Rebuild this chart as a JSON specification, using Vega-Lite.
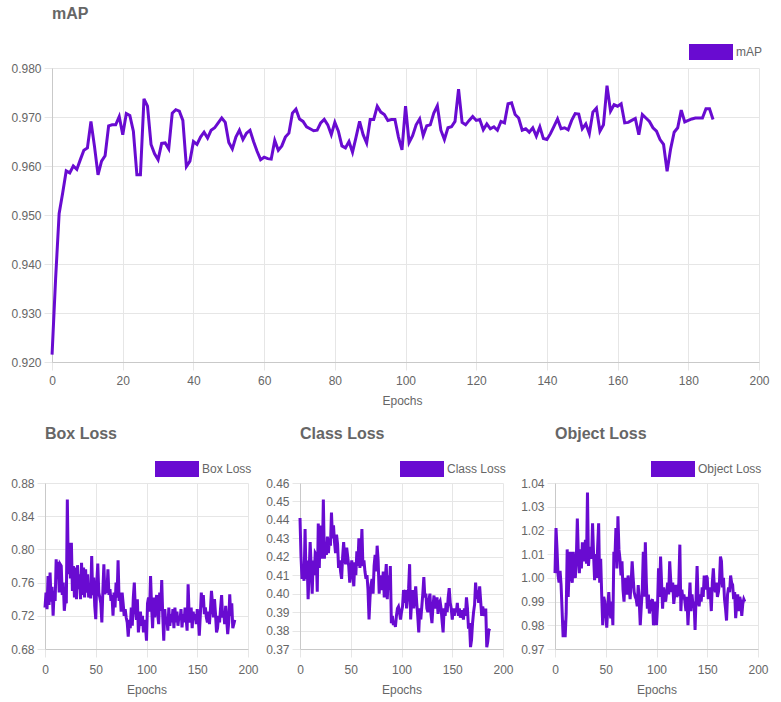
{
  "$schema": "https://vega.github.io/schema/vega-lite/v6.json",
  "background": "white",
  "padding": {"left": 10, "top": 6, "right": 10, "bottom": 4},
  "config": {
    "font": "Liberation Sans",
    "view": {"stroke": null},
    "axis": {
      "labelFont": "Liberation Sans", "labelFontSize": 12, "labelColor": "#666666",
      "titleFont": "Liberation Sans", "titleFontSize": 12, "titleFontWeight": "normal", "titleColor": "#666666",
      "gridColor": "#e6e6e6", "tickColor": "#e6e6e6", "domainColor": "#c9c9c9",
      "tickSize": 8, "labelPadding": 3
    },
    "axisX": {"labelFlush": false, "labelPadding": 5, "titlePadding": 9},
    "title": {"font": "Liberation Sans", "fontSize": 16, "fontWeight": "bold", "color": "#666666", "anchor": "start", "frame": "group"},
    "legend": {"labelFont": "Liberation Sans", "labelFontSize": 12, "labelColor": "#666666", "padding": 0, "labelOffset": 3,
               "symbolType": "M-1,-0.36H1V0.36H-1Z", "symbolSize": 1936, "symbolStrokeWidth": 0, "title": null, "orient": "none"},
    "line": {"strokeWidth": 3, "color": "#690bd1"},
    "point": {"filled": true, "opacity": 1, "strokeWidth": 0}
  },
  "datasets": {
    "runs": [
      {"epoch":0,"mAP":0.9215,"box":0.730,"cls":0.441,"obj":1.002},
      {"epoch":1,"mAP":0.937,"box":0.748,"cls":0.420,"obj":1.021},
      {"epoch":2,"mAP":0.9503,"box":0.728,"cls":0.408,"obj":1.012},
      {"epoch":3,"mAP":0.9545,"box":0.768,"cls":0.412,"obj":1.001},
      {"epoch":4,"mAP":0.959,"box":0.733,"cls":0.407,"obj":0.998},
      {"epoch":5,"mAP":0.9586,"box":0.772,"cls":0.435,"obj":1.003},
      {"epoch":6,"mAP":0.960,"box":0.737,"cls":0.408,"obj":0.997},
      {"epoch":7,"mAP":0.9593,"box":0.755,"cls":0.418,"obj":0.986},
      {"epoch":8,"mAP":0.9613,"box":0.720,"cls":0.397,"obj":0.975},
      {"epoch":9,"mAP":0.9632,"box":0.750,"cls":0.412,"obj":0.982},
      {"epoch":10,"mAP":0.9637,"box":0.738,"cls":0.428,"obj":0.975},
      {"epoch":11,"mAP":0.9691,"box":0.788,"cls":0.415,"obj":0.985},
      {"epoch":12,"mAP":0.964,"box":0.765,"cls":0.400,"obj":1.012},
      {"epoch":13,"mAP":0.9582,"box":0.785,"cls":0.418,"obj":0.992},
      {"epoch":14,"mAP":0.961,"box":0.748,"cls":0.410,"obj":1.004},
      {"epoch":15,"mAP":0.9621,"box":0.782,"cls":0.422,"obj":1.011},
      {"epoch":16,"mAP":0.9682,"box":0.780,"cls":0.421,"obj":1.000},
      {"epoch":17,"mAP":0.9684,"box":0.745,"cls":0.401,"obj":0.998},
      {"epoch":18,"mAP":0.9684,"box":0.760,"cls":0.438,"obj":1.011},
      {"epoch":19,"mAP":0.9701,"box":0.726,"cls":0.414,"obj":1.002},
      {"epoch":20,"mAP":0.9664,"box":0.740,"cls":0.437,"obj":1.000},
      {"epoch":21,"mAP":0.9707,"box":0.735,"cls":0.425,"obj":1.008},
      {"epoch":22,"mAP":0.9703,"box":0.860,"cls":0.419,"obj":1.025},
      {"epoch":23,"mAP":0.9671,"box":0.770,"cls":0.451,"obj":1.010},
      {"epoch":24,"mAP":0.9582,"box":0.808,"cls":0.419,"obj":1.002},
      {"epoch":25,"mAP":0.9582,"box":0.765,"cls":0.426,"obj":1.012},
      {"epoch":26,"mAP":0.9737,"box":0.808,"cls":0.421,"obj":1.004},
      {"epoch":27,"mAP":0.9722,"box":0.750,"cls":0.431,"obj":1.015},
      {"epoch":28,"mAP":0.9644,"box":0.780,"cls":0.422,"obj":1.007},
      {"epoch":29,"mAP":0.9625,"box":0.742,"cls":0.430,"obj":1.010},
      {"epoch":30,"mAP":0.9613,"box":0.778,"cls":0.426,"obj":1.016},
      {"epoch":31,"mAP":0.9646,"box":0.740,"cls":0.444,"obj":1.006},
      {"epoch":32,"mAP":0.9647,"box":0.781,"cls":0.430,"obj":1.036},
      {"epoch":33,"mAP":0.9635,"box":0.752,"cls":0.437,"obj":1.005},
      {"epoch":34,"mAP":0.9708,"box":0.770,"cls":0.428,"obj":1.012},
      {"epoch":35,"mAP":0.9715,"box":0.740,"cls":0.422,"obj":1.013},
      {"epoch":36,"mAP":0.9712,"box":0.784,"cls":0.432,"obj":1.008},
      {"epoch":37,"mAP":0.9693,"box":0.745,"cls":0.427,"obj":1.023},
      {"epoch":38,"mAP":0.9599,"box":0.778,"cls":0.414,"obj":1.010},
      {"epoch":39,"mAP":0.961,"box":0.742,"cls":0.418,"obj":0.999},
      {"epoch":40,"mAP":0.965,"box":0.776,"cls":0.412,"obj":1.010},
      {"epoch":41,"mAP":0.9644,"box":0.748,"cls":0.408,"obj":1.000},
      {"epoch":42,"mAP":0.9659,"box":0.770,"cls":0.420,"obj":1.013},
      {"epoch":43,"mAP":0.9669,"box":0.742,"cls":0.428,"obj":1.023},
      {"epoch":44,"mAP":0.9657,"box":0.752,"cls":0.419,"obj":0.998},
      {"epoch":45,"mAP":0.9673,"box":0.741,"cls":0.416,"obj":1.008},
      {"epoch":46,"mAP":0.9678,"box":0.792,"cls":0.425,"obj":0.993},
      {"epoch":47,"mAP":0.9688,"box":0.745,"cls":0.420,"obj":0.980},
      {"epoch":48,"mAP":0.9698,"box":0.766,"cls":0.415,"obj":0.992},
      {"epoch":49,"mAP":0.9689,"box":0.732,"cls":0.406,"obj":0.990},
      {"epoch":50,"mAP":0.9648,"box":0.716,"cls":0.412,"obj":0.985},
      {"epoch":51,"mAP":0.9635,"box":0.760,"cls":0.418,"obj":0.979},
      {"epoch":52,"mAP":0.9659,"box":0.783,"cls":0.410,"obj":0.988},
      {"epoch":53,"mAP":0.9673,"box":0.748,"cls":0.404,"obj":0.994},
      {"epoch":54,"mAP":0.9654,"box":0.742,"cls":0.417,"obj":0.986},
      {"epoch":55,"mAP":0.9667,"box":0.735,"cls":0.410,"obj":0.983},
      {"epoch":56,"mAP":0.9673,"box":0.712,"cls":0.423,"obj":0.990},
      {"epoch":57,"mAP":0.965,"box":0.750,"cls":0.415,"obj":0.980},
      {"epoch":58,"mAP":0.963,"box":0.782,"cls":0.430,"obj":1.011},
      {"epoch":59,"mAP":0.9613,"box":0.746,"cls":0.414,"obj":1.008},
      {"epoch":60,"mAP":0.9618,"box":0.752,"cls":0.420,"obj":1.021},
      {"epoch":61,"mAP":0.9615,"box":0.748,"cls":0.435,"obj":1.004},
      {"epoch":62,"mAP":0.9614,"box":0.776,"cls":0.415,"obj":1.026},
      {"epoch":63,"mAP":0.9652,"box":0.745,"cls":0.418,"obj":1.012},
      {"epoch":64,"mAP":0.9632,"box":0.752,"cls":0.412,"obj":1.008},
      {"epoch":65,"mAP":0.9641,"box":0.738,"cls":0.408,"obj":1.001},
      {"epoch":66,"mAP":0.9659,"box":0.745,"cls":0.410,"obj":1.007},
      {"epoch":67,"mAP":0.9667,"box":0.720,"cls":0.402,"obj":0.995},
      {"epoch":68,"mAP":0.9708,"box":0.748,"cls":0.386,"obj":0.990},
      {"epoch":69,"mAP":0.9716,"box":0.730,"cls":0.398,"obj":1.000},
      {"epoch":70,"mAP":0.9696,"box":0.760,"cls":0.405,"obj":0.996},
      {"epoch":71,"mAP":0.9691,"box":0.742,"cls":0.408,"obj":0.993},
      {"epoch":72,"mAP":0.968,"box":0.787,"cls":0.400,"obj":1.001},
      {"epoch":73,"mAP":0.9676,"box":0.738,"cls":0.415,"obj":0.996},
      {"epoch":74,"mAP":0.9672,"box":0.748,"cls":0.421,"obj":0.991},
      {"epoch":75,"mAP":0.9673,"box":0.725,"cls":0.412,"obj":0.998},
      {"epoch":76,"mAP":0.9688,"box":0.748,"cls":0.426,"obj":1.007},
      {"epoch":77,"mAP":0.9695,"box":0.735,"cls":0.418,"obj":1.000},
      {"epoch":78,"mAP":0.9684,"box":0.720,"cls":0.400,"obj":0.994},
      {"epoch":79,"mAP":0.9664,"box":0.728,"cls":0.410,"obj":0.992},
      {"epoch":80,"mAP":0.9689,"box":0.718,"cls":0.405,"obj":0.991},
      {"epoch":81,"mAP":0.9671,"box":0.712,"cls":0.402,"obj":0.988},
      {"epoch":82,"mAP":0.9641,"box":0.695,"cls":0.412,"obj":0.997},
      {"epoch":83,"mAP":0.9637,"box":0.715,"cls":0.398,"obj":0.990},
      {"epoch":84,"mAP":0.965,"box":0.705,"cls":0.408,"obj":0.980},
      {"epoch":85,"mAP":0.9628,"box":0.730,"cls":0.416,"obj":0.988},
      {"epoch":86,"mAP":0.9659,"box":0.708,"cls":0.397,"obj":0.995},
      {"epoch":87,"mAP":0.9691,"box":0.742,"cls":0.410,"obj":1.011},
      {"epoch":88,"mAP":0.9664,"box":0.760,"cls":0.402,"obj":0.992},
      {"epoch":89,"mAP":0.9647,"box":0.728,"cls":0.415,"obj":1.015},
      {"epoch":90,"mAP":0.9695,"box":0.715,"cls":0.384,"obj":0.998},
      {"epoch":91,"mAP":0.9695,"box":0.740,"cls":0.388,"obj":0.987},
      {"epoch":92,"mAP":0.9722,"box":0.700,"cls":0.383,"obj":0.993},
      {"epoch":93,"mAP":0.971,"box":0.712,"cls":0.385,"obj":0.985},
      {"epoch":94,"mAP":0.9705,"box":0.725,"cls":0.382,"obj":0.988},
      {"epoch":95,"mAP":0.9693,"box":0.708,"cls":0.388,"obj":0.990},
      {"epoch":96,"mAP":0.9695,"box":0.720,"cls":0.392,"obj":0.991},
      {"epoch":97,"mAP":0.9695,"box":0.700,"cls":0.393,"obj":0.980},
      {"epoch":98,"mAP":0.9659,"box":0.715,"cls":0.390,"obj":0.986},
      {"epoch":99,"mAP":0.9633,"box":0.708,"cls":0.386,"obj":0.990},
      {"epoch":100,"mAP":0.9722,"box":0.690,"cls":0.390,"obj":0.980},
      {"epoch":101,"mAP":0.9648,"box":0.735,"cls":0.393,"obj":0.988},
      {"epoch":102,"mAP":0.9662,"box":0.742,"cls":0.402,"obj":1.004},
      {"epoch":103,"mAP":0.9684,"box":0.725,"cls":0.395,"obj":0.992},
      {"epoch":104,"mAP":0.9696,"box":0.768,"cls":0.402,"obj":1.009},
      {"epoch":105,"mAP":0.9662,"box":0.732,"cls":0.392,"obj":0.998},
      {"epoch":106,"mAP":0.9682,"box":0.705,"cls":0.398,"obj":0.987},
      {"epoch":107,"mAP":0.9684,"box":0.742,"cls":0.403,"obj":0.996},
      {"epoch":108,"mAP":0.9708,"box":0.718,"cls":0.416,"obj":0.992},
      {"epoch":109,"mAP":0.9723,"box":0.735,"cls":0.386,"obj":0.990},
      {"epoch":110,"mAP":0.9673,"box":0.745,"cls":0.396,"obj":0.994},
      {"epoch":111,"mAP":0.9654,"box":0.722,"cls":0.402,"obj":0.998},
      {"epoch":112,"mAP":0.9678,"box":0.710,"cls":0.392,"obj":0.993},
      {"epoch":113,"mAP":0.968,"box":0.748,"cls":0.398,"obj":1.007},
      {"epoch":114,"mAP":0.9691,"box":0.726,"cls":0.404,"obj":0.999},
      {"epoch":115,"mAP":0.9757,"box":0.763,"cls":0.395,"obj":0.994},
      {"epoch":116,"mAP":0.9689,"box":0.720,"cls":0.388,"obj":0.998},
      {"epoch":117,"mAP":0.9684,"box":0.690,"cls":0.379,"obj":0.989},
      {"epoch":118,"mAP":0.9693,"box":0.728,"cls":0.392,"obj":0.993},
      {"epoch":119,"mAP":0.9701,"box":0.712,"cls":0.386,"obj":0.997},
      {"epoch":120,"mAP":0.9693,"box":0.718,"cls":0.393,"obj":0.992},
      {"epoch":121,"mAP":0.9695,"box":0.702,"cls":0.400,"obj":0.993},
      {"epoch":122,"mAP":0.9674,"box":0.730,"cls":0.409,"obj":0.998},
      {"epoch":123,"mAP":0.9686,"box":0.708,"cls":0.398,"obj":1.014},
      {"epoch":124,"mAP":0.9676,"box":0.722,"cls":0.400,"obj":0.986},
      {"epoch":125,"mAP":0.968,"box":0.712,"cls":0.392,"obj":0.995},
      {"epoch":126,"mAP":0.9673,"box":0.728,"cls":0.390,"obj":0.991},
      {"epoch":127,"mAP":0.9691,"box":0.705,"cls":0.396,"obj":0.993},
      {"epoch":128,"mAP":0.9688,"box":0.730,"cls":0.400,"obj":0.990},
      {"epoch":129,"mAP":0.9727,"box":0.712,"cls":0.389,"obj":0.986},
      {"epoch":130,"mAP":0.9729,"box":0.725,"cls":0.384,"obj":0.992},
      {"epoch":131,"mAP":0.9705,"box":0.708,"cls":0.393,"obj":0.980},
      {"epoch":132,"mAP":0.9698,"box":0.720,"cls":0.399,"obj":0.989},
      {"epoch":133,"mAP":0.9673,"box":0.715,"cls":0.392,"obj":0.998},
      {"epoch":134,"mAP":0.9676,"box":0.728,"cls":0.395,"obj":0.986},
      {"epoch":135,"mAP":0.9669,"box":0.706,"cls":0.398,"obj":0.993},
      {"epoch":136,"mAP":0.9678,"box":0.722,"cls":0.389,"obj":0.988},
      {"epoch":137,"mAP":0.9661,"box":0.712,"cls":0.395,"obj":0.990},
      {"epoch":138,"mAP":0.968,"box":0.730,"cls":0.396,"obj":0.978},
      {"epoch":139,"mAP":0.9656,"box":0.718,"cls":0.392,"obj":0.992},
      {"epoch":140,"mAP":0.9654,"box":0.702,"cls":0.385,"obj":1.005},
      {"epoch":141,"mAP":0.9666,"box":0.758,"cls":0.379,"obj":0.991},
      {"epoch":142,"mAP":0.9681,"box":0.720,"cls":0.392,"obj":0.988},
      {"epoch":143,"mAP":0.9696,"box":0.712,"cls":0.388,"obj":0.993},
      {"epoch":144,"mAP":0.9676,"box":0.730,"cls":0.395,"obj":0.990},
      {"epoch":145,"mAP":0.9678,"box":0.705,"cls":0.390,"obj":0.996},
      {"epoch":146,"mAP":0.9674,"box":0.725,"cls":0.398,"obj":0.992},
      {"epoch":147,"mAP":0.9693,"box":0.715,"cls":0.403,"obj":1.001},
      {"epoch":148,"mAP":0.9707,"box":0.722,"cls":0.395,"obj":0.995},
      {"epoch":149,"mAP":0.9706,"box":0.710,"cls":0.392,"obj":1.001},
      {"epoch":150,"mAP":0.9676,"box":0.728,"cls":0.386,"obj":1.000},
      {"epoch":151,"mAP":0.9686,"box":0.718,"cls":0.392,"obj":0.991},
      {"epoch":152,"mAP":0.9666,"box":0.696,"cls":0.388,"obj":0.996},
      {"epoch":153,"mAP":0.971,"box":0.720,"cls":0.392,"obj":0.994},
      {"epoch":154,"mAP":0.9718,"box":0.748,"cls":0.390,"obj":0.986},
      {"epoch":155,"mAP":0.9671,"box":0.730,"cls":0.395,"obj":0.998},
      {"epoch":156,"mAP":0.9684,"box":0.745,"cls":0.388,"obj":1.004},
      {"epoch":157,"mAP":0.9764,"box":0.722,"cls":0.392,"obj":0.996},
      {"epoch":158,"mAP":0.9712,"box":0.730,"cls":0.387,"obj":0.994},
      {"epoch":159,"mAP":0.9725,"box":0.718,"cls":0.389,"obj":0.998},
      {"epoch":160,"mAP":0.9722,"box":0.712,"cls":0.391,"obj":0.992},
      {"epoch":161,"mAP":0.9727,"box":0.725,"cls":0.386,"obj":0.994},
      {"epoch":162,"mAP":0.9688,"box":0.710,"cls":0.392,"obj":0.998},
      {"epoch":163,"mAP":0.9689,"box":0.728,"cls":0.388,"obj":1.009},
      {"epoch":164,"mAP":0.9693,"box":0.750,"cls":0.398,"obj":1.007},
      {"epoch":165,"mAP":0.9697,"box":0.735,"cls":0.392,"obj":0.996},
      {"epoch":166,"mAP":0.9664,"box":0.718,"cls":0.381,"obj":1.000},
      {"epoch":167,"mAP":0.9705,"box":0.740,"cls":0.384,"obj":0.991},
      {"epoch":168,"mAP":0.9698,"box":0.722,"cls":0.371,"obj":0.987},
      {"epoch":169,"mAP":0.9691,"box":0.700,"cls":0.375,"obj":0.982},
      {"epoch":170,"mAP":0.9678,"box":0.705,"cls":0.384,"obj":0.993},
      {"epoch":171,"mAP":0.9671,"box":0.720,"cls":0.390,"obj":0.996},
      {"epoch":172,"mAP":0.9654,"box":0.712,"cls":0.394,"obj":0.994},
      {"epoch":173,"mAP":0.9644,"box":0.730,"cls":0.406,"obj":1.001},
      {"epoch":174,"mAP":0.9589,"box":0.745,"cls":0.399,"obj":0.998},
      {"epoch":175,"mAP":0.9635,"box":0.718,"cls":0.400,"obj":0.997},
      {"epoch":176,"mAP":0.9669,"box":0.725,"cls":0.395,"obj":0.991},
      {"epoch":177,"mAP":0.9678,"box":0.710,"cls":0.404,"obj":0.994},
      {"epoch":178,"mAP":0.9714,"box":0.732,"cls":0.396,"obj":0.983},
      {"epoch":179,"mAP":0.969,"box":0.715,"cls":0.388,"obj":0.989},
      {"epoch":180,"mAP":0.9693,"box":0.698,"cls":0.393,"obj":0.993},
      {"epoch":181,"mAP":0.9696,"box":0.712,"cls":0.390,"obj":0.986},
      {"epoch":182,"mAP":0.9698,"box":0.746,"cls":0.388,"obj":0.992},
      {"epoch":183,"mAP":0.9698,"box":0.720,"cls":0.392,"obj":0.990},
      {"epoch":184,"mAP":0.9698,"box":0.735,"cls":0.371,"obj":0.984},
      {"epoch":185,"mAP":0.9717,"box":0.705,"cls":0.374,"obj":0.989},
      {"epoch":186,"mAP":0.9717,"box":0.710,"cls":0.380,"obj":0.991},
      {"epoch":187,"mAP":0.9695,"box":0.715,"cls":0.381,"obj":0.990}
    ]
  },
  "data": {"name": "runs"},
  "spacing": 20,
  "resolve": {"scale": {"color": "independent"}, "legend": {"color": "independent"}},
  "vconcat": [
    {
      "width": 714,
      "height": 294,
      "title": {"text": "mAP", "offset": 8, "dx": 7},
      "layer": [
        {
          "mark": {"type": "line"},
          "encoding": {
            "x": {"field": "epoch", "type": "quantitative", "title": "Epochs",
                  "scale": {"domain": [-2, 200], "nice": false, "zero": false},
                  "axis": {"values": [0, 20, 40, 60, 80, 100, 120, 140, 160, 180, 200]}},
            "y": {"field": "mAP", "type": "quantitative", "title": null,
                  "scale": {"domain": [0.92, 0.98], "nice": false, "zero": false},
                  "axis": {"values": [0.92, 0.93, 0.94, 0.95, 0.96, 0.97, 0.98], "format": ".3f", "offset": -7}}
          }
        },
        {
          "transform": [{"filter": "datum.epoch < 0"}],
          "mark": {"type": "point"},
          "encoding": {
            "color": {"datum": "mAP", "type": "nominal", "scale": {"range": ["#690bd1"]},
                      "legend": {"legendX": 644, "legendY": -38}}
          }
        }
      ]
    },
    {
      "spacing": 6,
      "resolve": {"scale": {"color": "independent"}, "legend": {"color": "independent"}},
      "hconcat": [
        {
          "width": 203,
          "height": 166,
          "title": {"text": "Box Loss", "offset": 5},
          "layer": [
            {
              "mark": {"type": "line"},
              "encoding": {
                "x": {"field": "epoch", "type": "quantitative", "title": "Epochs",
                      "scale": {"domain": [0, 200], "nice": false},
                      "axis": {"values": [0, 50, 100, 150, 200], "labelPadding": 7}},
                "y": {"field": "box", "type": "quantitative", "title": null,
                      "scale": {"domain": [0.68, 0.88], "nice": false, "zero": false},
                      "axis": {"values": [0.68, 0.72, 0.76, 0.80, 0.84, 0.88], "format": ".2f"}}
              }
            },
            {
              "transform": [{"filter": "datum.epoch < 0"}],
              "mark": {"type": "point"},
              "encoding": {
                "color": {"datum": "Box Loss", "type": "nominal", "scale": {"range": ["#690bd1"]},
                          "legend": {"legendX": 110, "legendY": -36}}
              }
            }
          ]
        },
        {
          "width": 203,
          "height": 166,
          "title": {"text": "Class Loss", "offset": 5},
          "layer": [
            {
              "mark": {"type": "line"},
              "encoding": {
                "x": {"field": "epoch", "type": "quantitative", "title": "Epochs",
                      "scale": {"domain": [0, 200], "nice": false},
                      "axis": {"values": [0, 50, 100, 150, 200], "labelPadding": 7}},
                "y": {"field": "cls", "type": "quantitative", "title": null,
                      "scale": {"domain": [0.37, 0.46], "nice": false, "zero": false},
                      "axis": {"values": [0.37, 0.38, 0.39, 0.40, 0.41, 0.42, 0.43, 0.44, 0.45, 0.46], "format": ".2f"}}
              }
            },
            {
              "transform": [{"filter": "datum.epoch < 0"}],
              "mark": {"type": "point"},
              "encoding": {
                "color": {"datum": "Class Loss", "type": "nominal", "scale": {"range": ["#690bd1"]},
                          "legend": {"legendX": 100, "legendY": -36}}
              }
            }
          ]
        },
        {
          "width": 203,
          "height": 166,
          "title": {"text": "Object Loss", "offset": 5},
          "layer": [
            {
              "mark": {"type": "line"},
              "encoding": {
                "x": {"field": "epoch", "type": "quantitative", "title": "Epochs",
                      "scale": {"domain": [0, 200], "nice": false},
                      "axis": {"values": [0, 50, 100, 150, 200], "labelPadding": 7}},
                "y": {"field": "obj", "type": "quantitative", "title": null,
                      "scale": {"domain": [0.97, 1.04], "nice": false, "zero": false},
                      "axis": {"values": [0.97, 0.98, 0.99, 1.00, 1.01, 1.02, 1.03, 1.04], "format": ".2f"}}
              }
            },
            {
              "transform": [{"filter": "datum.epoch < 0"}],
              "mark": {"type": "point"},
              "encoding": {
                "color": {"datum": "Object Loss", "type": "nominal", "scale": {"range": ["#690bd1"]},
                          "legend": {"legendX": 96, "legendY": -36}}
              }
            }
          ]
        }
      ]
    }
  ]
}
